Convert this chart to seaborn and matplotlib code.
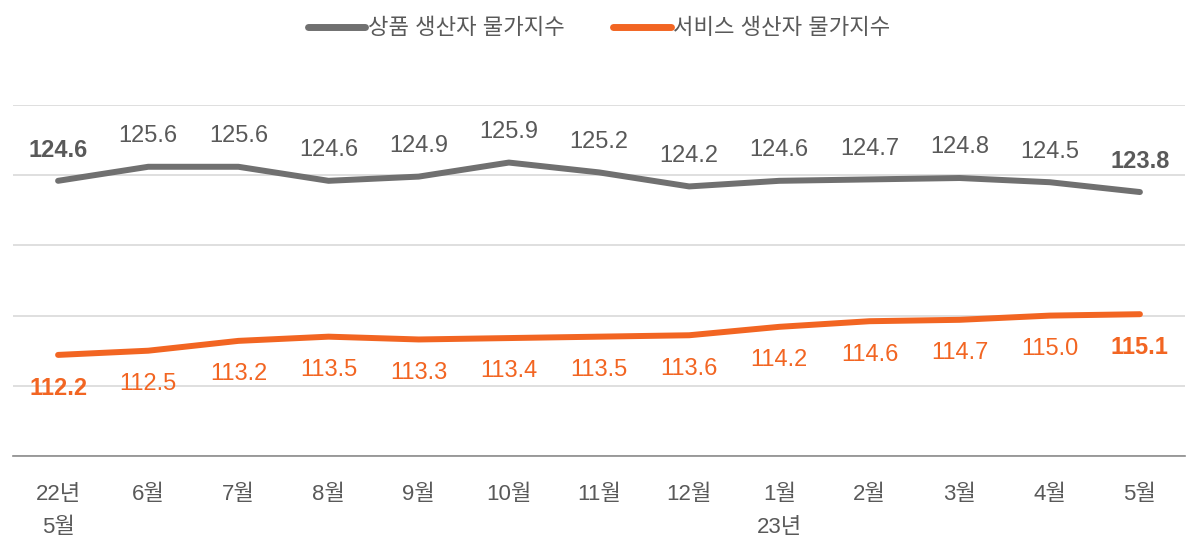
import numpy as np
import pandas as pd
import matplotlib
matplotlib.use("Agg")
import matplotlib.pyplot as plt
import seaborn as sns

# data
months = ["22년\n5월", "6월", "7월", "8월", "9월", "10월", "11월", "12월",
          "1월\n23년", "2월", "3월", "4월", "5월"]
goods = [124.6, 125.6, 125.6, 124.6, 124.9, 125.9, 125.2, 124.2, 124.6, 124.7, 124.8, 124.5, 123.8]
services = [112.2, 112.5, 113.2, 113.5, 113.3, 113.4, 113.5, 113.6, 114.2, 114.6, 114.7, 115.0, 115.1]
series_names = ["상품 생산자 물가지수", "서비스 생산자 물가지수"]

gray = "#707070"
orange = "#f26522"

sns.set_style("white")
plt.rcParams['font.family'] = ['Liberation Sans', 'Noto Sans CJK KR']

df = pd.DataFrame({
    "x": list(range(len(months))) * 2,
    "value": goods + services,
    "series": [series_names[0]] * len(goods) + [series_names[1]] * len(services),
})

fig = plt.figure(figsize=(11.95, 5.42), dpi=100)
ax = fig.add_axes([13 / 1195, 1 - 456 / 542, 1172 / 1195, 351 / 542])

sns.lineplot(data=df, x="x", y="value", hue="series",
             palette={series_names[0]: gray, series_names[1]: orange},
             linewidth=4.3, ax=ax, legend=True)
for ln in ax.get_lines():
    ln.set_solid_capstyle("round")

ax.set_xlim(-0.5, len(months) - 0.5)
ax.set_ylim(105, 130)
ax.set_yticks([105, 110, 115, 120, 125, 130])
ax.set_yticklabels([])
ax.tick_params(axis="y", length=0)
ax.grid(axis="y", color="#d9d9d9", linewidth=1.2)
ax.set_axisbelow(True)
for s in ["top", "right", "left"]:
    ax.spines[s].set_visible(False)
ax.spines["bottom"].set_color("#8c8c8c")
ax.spines["bottom"].set_linewidth(1.2)

ax.set_xticks(range(len(months)))
ax.set_xticklabels(months, fontsize=16, color="#595959", linespacing=1.75)
ax.tick_params(axis="x", length=0, pad=20)
ax.set_xlabel("")
ax.set_ylabel("")

last = len(months) - 1
for i, v in enumerate(goods):
    bold = i in (0, last)
    ax.annotate(f"{v:.1f}", (i, v), xytext=(0, 22), textcoords="offset points",
                ha="center", va="center", fontsize=17, color="#595959",
                fontweight="bold" if bold else "normal")
for i, v in enumerate(services):
    bold = i in (0, last)
    ax.annotate(f"{v:.1f}", (i, v), xytext=(0, -24), textcoords="offset points",
                ha="center", va="center", fontsize=17, color=orange,
                fontweight="bold" if bold else "normal")

leg = ax.legend(loc="lower center", bbox_to_anchor=(0.5, 1.13), ncol=2, frameon=False,
                fontsize=16, handlelength=2.6, handletextpad=0.1, columnspacing=2.2)
for t in leg.get_texts():
    t.set_color("#595959")
for h in leg.get_lines():
    h.set_linewidth(5)
    h.set_solid_capstyle("round")

fig.savefig("out.png", dpi=100)
